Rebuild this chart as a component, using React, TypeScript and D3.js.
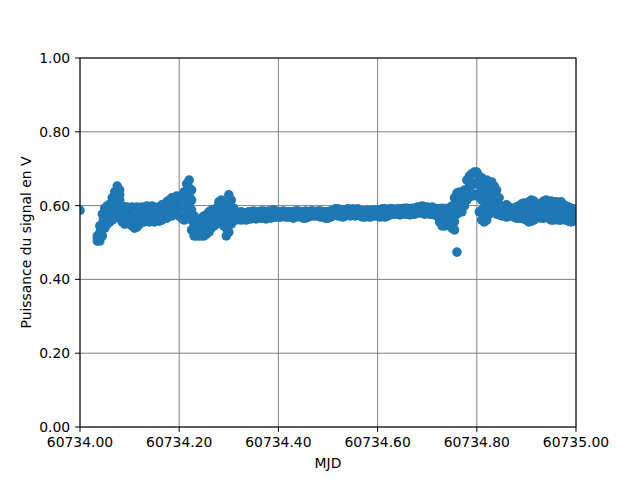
import React from "react";
import * as d3 from "d3";

const baseMjd = 60734;

// time offsets (days after MJD 60734)
const mjdOffset = [
  0.035, 0.04, 0.045, 0.05, 0.055, 0.06, 0.065, 0.07, 0.075, 0.08,
  0.085, 0.09, 0.095, 0.1, 0.105, 0.11, 0.115, 0.12, 0.125, 0.13,
  0.135, 0.14, 0.145, 0.15, 0.155, 0.16, 0.165, 0.17, 0.175, 0.18,
  0.185, 0.19, 0.195, 0.2, 0.205, 0.21, 0.215, 0.22, 0.225, 0.23,
  0.235, 0.24, 0.245, 0.25, 0.255, 0.26, 0.265, 0.27, 0.275, 0.28,
  0.285, 0.29, 0.295, 0.3, 0.305, 0.31, 0.315, 0.32, 0.325, 0.33,
  0.335, 0.34, 0.345, 0.35, 0.355, 0.36, 0.365, 0.37, 0.375, 0.38,
  0.385, 0.39, 0.395, 0.4, 0.405, 0.41, 0.415, 0.42, 0.425, 0.43,
  0.435, 0.44, 0.445, 0.45, 0.455, 0.46, 0.465, 0.47, 0.475, 0.48,
  0.485, 0.49, 0.495, 0.5, 0.505, 0.51, 0.515, 0.52, 0.525, 0.53,
  0.535, 0.54, 0.545, 0.55, 0.555, 0.56, 0.565, 0.57, 0.575, 0.58,
  0.585, 0.59, 0.595, 0.6, 0.605, 0.61, 0.615, 0.62, 0.625, 0.63,
  0.635, 0.64, 0.645, 0.65, 0.655, 0.66, 0.665, 0.67, 0.675, 0.68,
  0.685, 0.69, 0.695, 0.7, 0.705, 0.71, 0.715, 0.72, 0.725, 0.73,
  0.735, 0.74, 0.745, 0.75, 0.755, 0.76, 0.765, 0.77, 0.775, 0.78,
  0.785, 0.79, 0.795, 0.8, 0.805, 0.81, 0.815, 0.82, 0.825, 0.83,
  0.835, 0.84, 0.845, 0.85, 0.855, 0.86, 0.865, 0.87, 0.875, 0.88,
  0.885, 0.89, 0.895, 0.9, 0.905, 0.91, 0.915, 0.92, 0.925, 0.93,
  0.935, 0.94, 0.945, 0.95, 0.955, 0.96, 0.965, 0.97, 0.975, 0.98,
  0.985, 0.99, 0.995, 1.0,
];

// signal power samples (V) at each time: high, middle and low readings
const powerHigh = [
  0.518, 0.545, 0.577, 0.593, 0.599, 0.604, 0.621, 0.637, 0.653, 0.642,
  0.599, 0.596, 0.596, 0.593, 0.596, 0.593, 0.596, 0.591, 0.596, 0.593,
  0.599, 0.593, 0.599, 0.596, 0.593, 0.596, 0.602, 0.602, 0.61, 0.615,
  0.621, 0.621, 0.626, 0.621, 0.626, 0.637, 0.659, 0.669, 0.642, 0.572,
  0.561, 0.561, 0.566, 0.572, 0.575, 0.583, 0.588, 0.588, 0.593, 0.61,
  0.615, 0.593, 0.604, 0.629, 0.615, 0.593, 0.583, 0.58, 0.583, 0.58,
  0.58, 0.583, 0.583, 0.585, 0.583, 0.583, 0.585, 0.585, 0.583, 0.585,
  0.585, 0.588, 0.585, 0.583, 0.583, 0.585, 0.583, 0.583, 0.583, 0.583,
  0.585, 0.585, 0.583, 0.583, 0.585, 0.583, 0.585, 0.585, 0.583, 0.585,
  0.585, 0.583, 0.583, 0.583, 0.585, 0.588, 0.591, 0.591, 0.588, 0.588,
  0.588, 0.591, 0.588, 0.591, 0.588, 0.591, 0.588, 0.585, 0.585, 0.588,
  0.585, 0.588, 0.588, 0.588, 0.588, 0.591, 0.591, 0.588, 0.591, 0.591,
  0.588, 0.591, 0.591, 0.591, 0.593, 0.593, 0.591, 0.593, 0.593, 0.596,
  0.596, 0.599, 0.596, 0.596, 0.593, 0.596, 0.593, 0.591, 0.591, 0.593,
  0.591, 0.593, 0.591, 0.599, 0.621, 0.634, 0.637, 0.634, 0.642, 0.669,
  0.68, 0.686, 0.691, 0.691, 0.68, 0.675, 0.664, 0.669, 0.664, 0.664,
  0.653, 0.642, 0.621, 0.596, 0.599, 0.602, 0.596, 0.593, 0.593, 0.596,
  0.599, 0.604, 0.607, 0.602, 0.61, 0.615, 0.612, 0.604, 0.602, 0.607,
  0.612, 0.615, 0.61, 0.612, 0.61, 0.61, 0.607, 0.61, 0.602, 0.599,
  0.596, 0.593, 0.591, 0.588,
];

const powerMid = [
  0.512, 0.526, 0.547, 0.566, 0.575, 0.58, 0.591, 0.602, 0.623, 0.629,
  0.577, 0.575, 0.577, 0.572, 0.569, 0.566, 0.569, 0.572, 0.58, 0.575,
  0.58, 0.575, 0.58, 0.577, 0.577, 0.577, 0.583, 0.585, 0.588, 0.593,
  0.596, 0.599, 0.602, 0.596, 0.596, 0.599, 0.618, 0.626, 0.588, 0.545,
  0.539, 0.539, 0.542, 0.545, 0.55, 0.556, 0.564, 0.566, 0.572, 0.583,
  0.591, 0.569, 0.561, 0.58, 0.583, 0.577, 0.572, 0.572, 0.572, 0.572,
  0.572, 0.575, 0.575, 0.577, 0.575, 0.575, 0.577, 0.577, 0.575, 0.577,
  0.577, 0.58, 0.577, 0.577, 0.577, 0.578, 0.576, 0.576, 0.576, 0.575,
  0.577, 0.578, 0.576, 0.575, 0.576, 0.576, 0.578, 0.578, 0.577, 0.578,
  0.577, 0.576, 0.575, 0.575, 0.577, 0.58, 0.583, 0.581, 0.58, 0.578,
  0.58, 0.583, 0.58, 0.583, 0.58, 0.583, 0.58, 0.577, 0.577, 0.58,
  0.577, 0.58, 0.58, 0.58, 0.578, 0.581, 0.58, 0.58, 0.583, 0.584,
  0.583, 0.584, 0.583, 0.584, 0.585, 0.585, 0.583, 0.585, 0.585, 0.588,
  0.588, 0.59, 0.587, 0.588, 0.585, 0.587, 0.584, 0.583, 0.575, 0.569,
  0.569, 0.572, 0.569, 0.569, 0.577, 0.607, 0.612, 0.61, 0.621, 0.642,
  0.653, 0.656, 0.661, 0.659, 0.631, 0.642, 0.61, 0.615, 0.621, 0.626,
  0.618, 0.61, 0.599, 0.585, 0.585, 0.585, 0.585, 0.583, 0.583, 0.583,
  0.583, 0.585, 0.585, 0.583, 0.583, 0.588, 0.588, 0.585, 0.585, 0.588,
  0.591, 0.593, 0.588, 0.588, 0.585, 0.588, 0.585, 0.585, 0.583, 0.58,
  0.577, 0.575, 0.575, 0.575,
];

const powerLow = [
  0.504, 0.504, 0.518, 0.539, 0.55, 0.556, 0.561, 0.566, 0.593, 0.615,
  0.556, 0.55, 0.556, 0.55, 0.545, 0.539, 0.542, 0.55, 0.561, 0.556,
  0.561, 0.556, 0.558, 0.556, 0.561, 0.558, 0.561, 0.566, 0.566, 0.572,
  0.572, 0.577, 0.577, 0.572, 0.566, 0.561, 0.577, 0.583, 0.534, 0.518,
  0.518, 0.518, 0.518, 0.518, 0.523, 0.528, 0.539, 0.545, 0.55, 0.556,
  0.566, 0.545, 0.518, 0.528, 0.55, 0.561, 0.561, 0.564, 0.561, 0.564,
  0.561, 0.564, 0.564, 0.566, 0.564, 0.566, 0.566, 0.566, 0.564, 0.569,
  0.566, 0.569, 0.569, 0.569, 0.569, 0.572, 0.569, 0.569, 0.569, 0.566,
  0.569, 0.572, 0.569, 0.566, 0.566, 0.569, 0.572, 0.572, 0.572, 0.572,
  0.569, 0.569, 0.566, 0.566, 0.569, 0.572, 0.575, 0.572, 0.572, 0.569,
  0.572, 0.575, 0.572, 0.575, 0.572, 0.575, 0.572, 0.569, 0.569, 0.572,
  0.569, 0.572, 0.572, 0.572, 0.569, 0.572, 0.569, 0.572, 0.575, 0.577,
  0.577, 0.577, 0.575, 0.577, 0.577, 0.577, 0.575, 0.577, 0.577, 0.58,
  0.58, 0.58, 0.577, 0.58, 0.577, 0.577, 0.575, 0.572, 0.556, 0.545,
  0.545, 0.55, 0.545, 0.539, 0.534, 0.577, 0.588, 0.583, 0.599, 0.615,
  0.626, 0.626, 0.631, 0.626, 0.583, 0.561, 0.556, 0.561, 0.577, 0.588,
  0.583, 0.577, 0.577, 0.572, 0.572, 0.569, 0.572, 0.572, 0.569, 0.566,
  0.566, 0.566, 0.564, 0.561, 0.556, 0.558, 0.561, 0.566, 0.569, 0.566,
  0.566, 0.569, 0.566, 0.561, 0.561, 0.564, 0.561, 0.561, 0.564, 0.561,
  0.558, 0.556, 0.558, 0.561,
];

// additional isolated readings
const extraOffset = [
  0.0, 0.043, 0.047, 0.07, 0.07, 0.215, 0.215, 0.22, 0.22, 0.225, 0.225,
  0.295, 0.295, 0.3, 0.3, 0.755, 0.755, 0.76, 0.805, 0.81, 0.81, 0.815,
  0.815, 0.82, 0.82, 0.825, 0.825, 0.83, 0.83, 0.835, 0.835,
];
const extraPower = [
  0.587, 0.534, 0.561, 0.621, 0.585, 0.64, 0.599, 0.648, 0.604, 0.615, 0.561,
  0.583, 0.539, 0.604, 0.556, 0.599, 0.556, 0.474, 0.656, 0.615, 0.588, 0.637,
  0.583, 0.642, 0.588, 0.642, 0.599, 0.645, 0.607, 0.637, 0.599,
];

const xTicks = [60734.0, 60734.2, 60734.4, 60734.6, 60734.8, 60735.0];
const yTicks = [0, 0.2, 0.4, 0.6, 0.8, 1.0];

const W = 640;
const H = 480;
const left = 80;
const right = 576;
const top = 58;
const bottom = 427;
const COLOR = "#1f77b4";
const FONT = "'DejaVu Sans', sans-serif";
const FS = 13.9;

export default function App() {
  const x = d3.scaleLinear().domain([60734, 60735]).range([left, right]);
  const y = d3.scaleLinear().domain([0, 1]).range([bottom, top]);

  const points: { t: number; v: number }[] = [];
  mjdOffset.forEach((o, i) => {
    points.push({ t: baseMjd + o, v: powerHigh[i] });
    points.push({ t: baseMjd + o, v: powerMid[i] });
    points.push({ t: baseMjd + o, v: powerLow[i] });
  });
  extraOffset.forEach((o, i) => points.push({ t: baseMjd + o, v: extraPower[i] }));

  const fmt = d3.format(".2f");

  return (
    <svg
      width={W}
      height={H}
      style={{ position: "absolute", left: 0, top: 0, background: "#fff" }}
      fontFamily={FONT}
    >
      <defs>
        <clipPath id="plotClip">
          <rect x={left} y={top} width={right - left} height={bottom - top} />
        </clipPath>
      </defs>
      <rect x={0} y={0} width={W} height={H} fill="#fff" />
      {/* grid */}
      <g stroke="#808080" strokeWidth={1}>
        {xTicks.map((t) => (
          <line key={"gx" + t} x1={x(t)} x2={x(t)} y1={top} y2={bottom} />
        ))}
        {yTicks.map((t) => (
          <line key={"gy" + t} x1={left} x2={right} y1={y(t)} y2={y(t)} />
        ))}
      </g>
      {/* points */}
      <g clipPath="url(#plotClip)" fill={COLOR}>
        {points.map((p, i) => (
          <circle key={i} cx={x(p.t)} cy={y(p.v)} r={4.8} />
        ))}
      </g>
      {/* spines */}
      <rect
        x={left}
        y={top}
        width={right - left}
        height={bottom - top}
        fill="none"
        stroke="#000"
        strokeWidth={1}
      />
      {/* x ticks */}
      <g>
        {xTicks.map((t) => (
          <g key={"xt" + t}>
            <line x1={x(t)} x2={x(t)} y1={bottom} y2={bottom + 4.9} stroke="#000" />
            <text x={x(t)} y={bottom + 20} textAnchor="middle" fontSize={FS} fill="#000">
              {fmt(t)}
            </text>
          </g>
        ))}
      </g>
      {/* y ticks */}
      <g>
        {yTicks.map((t) => (
          <g key={"yt" + t}>
            <line x1={left - 4.9} x2={left} y1={y(t)} y2={y(t)} stroke="#000" />
            <text
              x={left - 9.8}
              y={y(t)}
              dy="0.36em"
              textAnchor="end"
              fontSize={FS}
              fill="#000"
            >
              {fmt(t)}
            </text>
          </g>
        ))}
      </g>
      <text x={(left + right) / 2} y={468} textAnchor="middle" fontSize={FS} fill="#000">
        MJD
      </text>
      <text
        transform={`translate(31, ${(top + bottom) / 2}) rotate(-90)`}
        textAnchor="middle"
        fontSize={FS}
        fill="#000"
      >
        Puissance du signal en V
      </text>
    </svg>
  );
}
